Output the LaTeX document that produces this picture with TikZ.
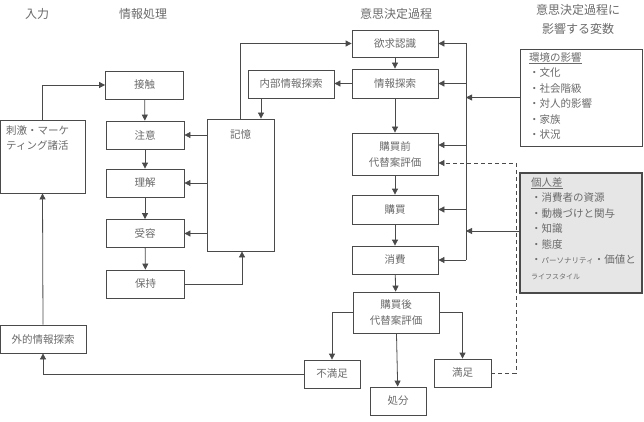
\documentclass[tikz,border=0pt]{standalone}
\usepackage{fontspec}
\newfontfamily\cjk{Noto Sans CJK JP}
\usetikzlibrary{arrows.meta}
\definecolor{linec}{HTML}{4A4A4A}
\definecolor{textc}{HTML}{6A6A6A}
\definecolor{grayfill}{HTML}{E6E6E6}
\begin{document}
\begin{tikzpicture}[x=1pt,y=-1pt,
 box/.style={draw=linec, line width=0.8pt, fill=white, text=textc, font=\cjk\fontsize{10.5}{16}\selectfont, inner sep=0pt, align=center},
 txt/.style={text=textc, font=\cjk\fontsize{10.5}{15.5}\selectfont, inner sep=0pt, align=left},
 head/.style={text=textc, font=\cjk\fontsize{12}{19}\selectfont, inner sep=0pt, align=center},
 arr/.style={draw=linec, line width=0.8pt, -{Triangle[length=6pt,width=6pt]}},
 ln/.style={draw=linec, line width=0.8pt},
 ]
\useasboundingbox (0,0) rectangle (644,422);
% headers
\node[head] (h1) at (37,14) {入力};
\node[head] (h2) at (143,14) {情報処理};
\node[head] (h3) at (396,14) {意思決定過程};
\node[head] (h4) at (578,19) {意思決定過程に\\影響する変数};
% input column
\node[box, minimum width=85pt, minimum height=73pt] (stim) at (42.5,156.5) {};
\node[txt, anchor=north west] (stimt) at (6,125) {刺激・マーケ\\ティング諸活};
\node[box, minimum width=86pt, minimum height=28pt] (ext) at (43,339) {外的情報探索};
% information processing
\node[box, minimum width=78pt, minimum height=28pt] (contact) at (144.5,85) {接触};
\node[box, minimum width=78pt, minimum height=28pt] (attn) at (145,135) {注意};
\node[box, minimum width=78pt, minimum height=28pt] (comp) at (145,183) {理解};
\node[box, minimum width=78pt, minimum height=28pt] (accept) at (145,233.5) {受容};
\node[box, minimum width=78pt, minimum height=28pt] (retain) at (145.5,284) {保持};
\node[box, minimum width=67pt, minimum height=132pt] (mem) at (240.5,185) {};
\node[txt] (memt) at (240.5,135) {記憶};
\node[box, minimum width=86pt, minimum height=28pt] (internal) at (291,84) {内部情報探索};
% decision process
\node[box, minimum width=86pt, minimum height=27pt] (need) at (395,43.5) {欲求認識};
\node[box, minimum width=86pt, minimum height=29pt] (search) at (395,83.5) {情報探索};
\node[box, minimum width=86pt, minimum height=42pt] (pre) at (395,154) {購買前\\代替案評価};
\node[box, minimum width=86pt, minimum height=29pt] (buy) at (395,209.5) {購買};
\node[box, minimum width=86pt, minimum height=28pt] (cons) at (395,260) {消費};
\node[box, minimum width=86pt, minimum height=41pt] (post) at (396,312.5) {購買後\\代替案評価};
\node[box, minimum width=56pt, minimum height=28pt] (dissat) at (332,374) {不満足};
\node[box, minimum width=56pt, minimum height=28pt] (dispose) at (398,401) {処分};
\node[box, minimum width=57pt, minimum height=28pt] (sat) at (462.5,373) {満足};
% variables
\node[box, minimum width=122pt, minimum height=97pt] (env) at (581,97.5) {};
\node[txt, anchor=north west] (envt) at (529,52) {\underline{環境の影響}\\・文化\\・社会階級\\・対人的影響\\・家族\\・状況};
\node[box, fill=grayfill, line width=1.1pt, minimum width=122pt, minimum height=120pt] (indiv) at (581,233) {};
\node[txt, anchor=north west] (indivt) at (531,177) {\underline{個人差}\\・消費者の資源\\・動機づけと関与\\・知識\\・態度\\・{\fontsize{7.5}{15.5}\selectfont パーソナリティ}・価値と\\{\fontsize{7}{15.5}\selectfont ライフスタイル}};
% coordinates
\coordinate (bt) at (466,43.5);
\coordinate (bb) at (466,260);
\coordinate (dtop) at (516,163);
% input connections
\draw[arr] (stim.north) |- (contact.west);
\draw[arr] (ext.north) -- (stim.south);
\draw[arr] (dissat.west) -| (ext.south);
% info processing arrows
\draw[arr] (contact) -- (attn);
\draw[arr] (attn) -- (comp);
\draw[arr] (comp) -- (accept);
\draw[arr] (accept) -- (retain);
\draw[arr] (mem.west |- attn.east) -- (attn.east);
\draw[arr] (mem.west |- comp.east) -- (comp.east);
\draw[arr] (mem.west |- accept.east) -- (accept.east);
\draw[arr] (retain.east) -| ([xshift=1.5pt]mem.south);
\draw[arr] (mem.north) |- (need.west);
\draw[arr] (search.west) -- (search.west -| internal.east);
\draw[arr] ([xshift=-30pt]internal.south) -- ([xshift=-30pt]internal.south |- mem.north);
% decision arrows
\draw[arr] (need) -- (search);
\draw[arr] (search) -- (pre);
\draw[arr] (pre) -- (buy);
\draw[arr] (buy) -- (cons);
\draw[arr] (cons) -- (post);
\draw[arr] (post) -- (dispose);
\draw[arr] (post.west) -| (dissat.north);
\draw[arr] (post.east) -| (sat.north);
% bus
\draw[ln] (bt) -- (bb);
\draw[arr] (bt) -- (need.east);
\draw[arr] (bt |- search.east) -- (search.east);
\draw[arr] (466,145) -- (pre.east |- 0,145);
\draw[arr] (bt |- buy.east) -- (buy.east);
\draw[arr] (bb) -- (cons.east);
\draw[arr] (env.west) -- (env.west -| bt);
\draw[arr] (indiv.west |- 0,231) -- (bt |- 0,231);
% dashed feedback
\draw[arr, dashed, dash pattern=on 4pt off 3pt] (sat.east) -| (dtop) -- (pre.east |- dtop);
\end{tikzpicture}
\end{document}
